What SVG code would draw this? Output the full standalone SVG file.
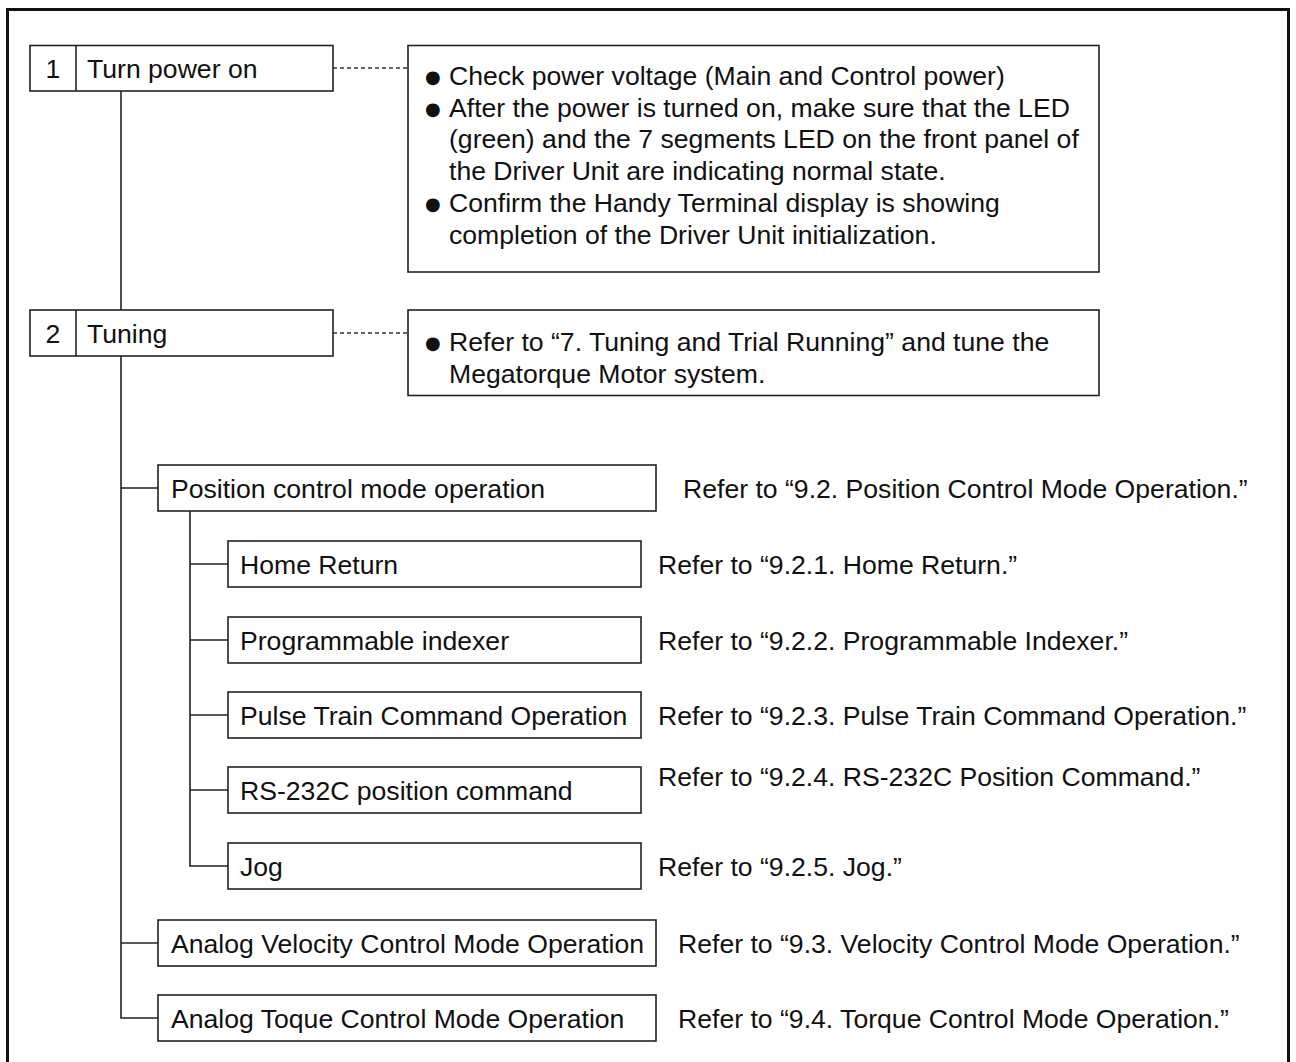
<svg xmlns="http://www.w3.org/2000/svg" width="1296" height="1062" viewBox="0 0 1296 1062">
<style>
text{font-family:"Liberation Sans",Arial,sans-serif;font-size:26.6px;fill:#111}
.box{fill:#fff;stroke:#222;stroke-width:1.6}
.ln{fill:none;stroke:#222;stroke-width:1.6}
.dash{fill:none;stroke:#333;stroke-width:1.3;stroke-dasharray:4 3}
.bul{font-family:"DejaVu Sans",sans-serif;font-size:18px}
</style>
<rect x="0" y="0" width="1296" height="1062" fill="#fff"/>
<rect x="7.5" y="9.5" width="1281" height="1100" fill="none" stroke="#111" stroke-width="3"/>

<g id="connectors">
<line class="dash" x1="333" y1="68" x2="408" y2="68"/>
<line class="dash" x1="333" y1="333" x2="408" y2="333"/>
<line class="ln" x1="121" y1="91" x2="121" y2="310"/>
<polyline class="ln" points="121,356 121,1018 158,1018"/>
<line class="ln" x1="121" y1="488" x2="158" y2="488"/>
<line class="ln" x1="121" y1="943" x2="158" y2="943"/>
<polyline class="ln" points="190,511 190,866 228,866"/>
<line class="ln" x1="190" y1="564" x2="228" y2="564"/>
<line class="ln" x1="190" y1="640" x2="228" y2="640"/>
<line class="ln" x1="190" y1="715" x2="228" y2="715"/>
<line class="ln" x1="190" y1="790" x2="228" y2="790"/>
</g>

<g id="step1">
<rect class="box" x="30" y="45.5" width="303" height="45.5"/>
<line class="ln" x1="76" y1="45.5" x2="76" y2="91"/>
<text x="53" y="77.5" text-anchor="middle">1</text>
<text x="87" y="77.5">Turn power on</text>
</g>

<g id="note1">
<rect class="box" x="408" y="45.5" width="691" height="226.5"/>
<text class="bul" x="425" y="83">●</text>
<text x="449" y="85">Check power voltage (Main and Control power)</text>
<text class="bul" x="425" y="114.7">●</text>
<text x="449" y="116.7">After the power is turned on, make sure that the LED</text>
<text x="449" y="148.4">(green) and the 7 segments LED on the front panel of</text>
<text x="449" y="180">the Driver Unit are indicating normal state.</text>
<text class="bul" x="425" y="209.8">●</text>
<text x="449" y="211.8">Confirm the Handy Terminal display is showing</text>
<text x="449" y="243.5">completion of the Driver Unit initialization.</text>
</g>

<g id="step2">
<rect class="box" x="30" y="310" width="303" height="46"/>
<line class="ln" x1="76" y1="310" x2="76" y2="356"/>
<text x="53" y="342.5" text-anchor="middle">2</text>
<text x="87" y="342.5">Tuning</text>
</g>

<g id="note2">
<rect class="box" x="408" y="310" width="691" height="85.5"/>
<text class="bul" x="425" y="349">●</text>
<text x="449" y="351">Refer to “7. Tuning and Trial Running” and tune the</text>
<text x="449" y="383">Megatorque Motor system.</text>
</g>

<g id="position">
<rect class="box" x="158" y="465" width="498" height="46"/>
<text x="171" y="497.5">Position control mode operation</text>
<text x="683" y="497.5">Refer to “9.2. Position Control Mode Operation.”</text>
</g>

<g id="home">
<rect class="box" x="228" y="541" width="413" height="46"/>
<text x="240" y="573.5">Home Return</text>
<text x="658" y="573.5">Refer to “9.2.1. Home Return.”</text>
</g>

<g id="indexer">
<rect class="box" x="228" y="617" width="413" height="46"/>
<text x="240" y="649.5">Programmable indexer</text>
<text x="658" y="649.5">Refer to “9.2.2. Programmable Indexer.”</text>
</g>

<g id="pulse">
<rect class="box" x="228" y="692" width="413" height="46"/>
<text x="240" y="724.5">Pulse Train Command Operation</text>
<text x="658" y="724.5">Refer to “9.2.3. Pulse Train Command Operation.”</text>
</g>

<g id="rs232c">
<rect class="box" x="228" y="767" width="413" height="46"/>
<text x="240" y="799.5">RS-232C position command</text>
<text x="658" y="785.5">Refer to “9.2.4. RS-232C Position Command.”</text>
</g>

<g id="jog">
<rect class="box" x="228" y="843" width="413" height="46"/>
<text x="240" y="875.5">Jog</text>
<text x="658" y="875.5">Refer to “9.2.5. Jog.”</text>
</g>

<g id="velocity">
<rect class="box" x="158" y="920" width="498" height="46"/>
<text x="171" y="952.5">Analog Velocity Control Mode Operation</text>
<text x="678" y="952.5">Refer to “9.3. Velocity Control Mode Operation.”</text>
</g>

<g id="torque">
<rect class="box" x="158" y="995" width="498" height="46"/>
<text x="171" y="1027.5">Analog Toque Control Mode Operation</text>
<text x="678" y="1027.5">Refer to “9.4. Torque Control Mode Operation.”</text>
</g>
</svg>
